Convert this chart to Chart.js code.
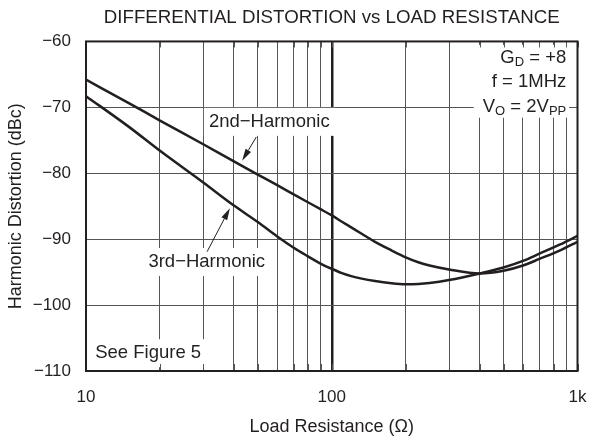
<!DOCTYPE html>
<html>
<head>
<meta charset="utf-8">
<script src="https://cdn.jsdelivr.net/npm/chart.js@4.4.1/dist/chart.umd.min.js"></script>
<style>
  html, body { margin: 0; padding: 0; background: #fff; }
  #wrap { width: 589px; height: 440px; }
</style>
</head>
<body>
<div id="wrap"><canvas id="distChart"></canvas></div>
<script>
// load resistance (ohms) and harmonic levels (dBc)
const loadOhms = [10, 15, 20, 30, 40, 50, 60, 70, 80, 90, 100, 110, 120, 150, 175, 200, 225, 250, 300, 400, 500, 600, 700, 850, 1000];
const harm2 = [-65.8, -69.4, -72.0, -75.6, -78.2, -80.2, -81.8, -83.2, -84.4, -85.45, -86.4, -87.35, -88.2, -90.4, -91.7, -92.75, -93.5, -94.0, -94.6, -95.2, -94.8, -94.0, -93.0, -91.7, -90.4];
const harm3 = [-68.3, -73.0, -76.6, -81.4, -84.9, -87.4, -89.6, -91.3, -92.6, -93.7, -94.5, -95.15, -95.6, -96.35, -96.7, -96.85, -96.8, -96.65, -96.2, -95.2, -94.3, -93.3, -92.2, -90.8, -89.5];

const xGridValues = [10, 20, 30, 40, 50, 60, 70, 80, 90, 100, 200, 300, 400, 500, 600, 700, 800, 900, 1000];
const xTickNames = { 10: '10', 100: '100', 1000: '1k' };
const yMin = -110, yMax = -60, yStep = 10;

const ink = '#231f20';
const gridInk = '#555';
const fam = '"Liberation Sans", Arial, Helvetica, sans-serif';
const noteFont = '18.5px ' + fam;
const subFont = '13px ' + fam;

// annotation anchors, in data units (ohms, dBc)
const labelNotes = [
    { text: '2nd\u2212Harmonic', r: 55.7, db: -72.2, align: 'center' },
    { text: '3rd\u2212Harmonic', r: 31.0, db: -93.46, align: 'center' },
    { text: 'See Figure 5', r: 10.9, db: -107.3, align: 'left' }
];
const arrowNotes = [
    { from: [49.3, -74.5], to: [43.2, -78.1] },
    { from: [31.1, -91.9], to: [38.5, -85.3] }
];
const condLines = [
    [['G', 0], ['D', 1], [' = +8', 0]],
    [['f = 1MHz', 0]],
    [['V', 0], ['O', 1], [' = 2V', 0], ['PP', 1]]
];
const condAnchor = { r: 900, db: [-62.5, -66.1, -69.9] };

function toPoints(vals) {
    return loadOhms.map(function (r, i) { return { x: r, y: vals[i] }; });
}

function richWidth(ctx, segs) {
    let w = 0;
    segs.forEach(function (s) {
        ctx.font = s[1] ? subFont : noteFont;
        w += ctx.measureText(s[0]).width;
    });
    return w;
}

function drawRich(ctx, segs, x, y) {
    segs.forEach(function (s) {
        ctx.font = s[1] ? subFont : noteFont;
        ctx.fillText(s[0], x, s[1] ? y + 5 : y);
        x += ctx.measureText(s[0]).width;
    });
}

function noteBoxes(chart) {
    const ctx = chart.ctx, xs = chart.scales.x, ys = chart.scales.y;
    const boxes = [];
    ctx.save();
    ctx.font = noteFont;
    labelNotes.forEach(function (n) {
        const w = ctx.measureText(n.text).width;
        const cx = xs.getPixelForValue(n.r), cy = ys.getPixelForValue(n.db);
        const left = n.align === 'left' ? cx : cx - w / 2;
        boxes.push({ x: left - 5, y: cy - 14, w: w + 10, h: 28 });
    });
    let maxW = 0;
    condLines.forEach(function (l) { maxW = Math.max(maxW, richWidth(ctx, l)); });
    const right = xs.getPixelForValue(condAnchor.r);
    const top = ys.getPixelForValue(condAnchor.db[0]);
    const bot = ys.getPixelForValue(condAnchor.db[2]);
    boxes.push({ x: right - maxW - 9, y: top - 13, w: maxW + 12, h: bot - top + 24 });
    ctx.restore();
    return boxes;
}

const notesPlugin = {
    id: 'notes',
    beforeDatasetsDraw: function (chart) {
        const ctx = chart.ctx, a = chart.chartArea, xs = chart.scales.x, ys = chart.scales.y;
        ctx.save();
        ctx.fillStyle = '#fff';
        noteBoxes(chart).forEach(function (b) { ctx.fillRect(b.x, b.y, b.w, b.h); });
        // short ticks along the frame, they stay visible where boxes hide the grid
        ctx.strokeStyle = gridInk;
        ctx.lineWidth = 1;
        ctx.beginPath();
        xGridValues.forEach(function (v) {
            const x = Math.round(xs.getPixelForValue(v)) + 0.5;
            ctx.moveTo(x, a.top); ctx.lineTo(x, a.top + 6);
            ctx.moveTo(x, a.bottom); ctx.lineTo(x, a.bottom - 7);
        });
        for (let v = yMin; v <= yMax; v += yStep) {
            const y = Math.round(ys.getPixelForValue(v)) + 0.5;
            ctx.moveTo(a.left, y); ctx.lineTo(a.left + 8, y);
            ctx.moveTo(a.right, y); ctx.lineTo(a.right - 8, y);
        }
        ctx.stroke();
        ctx.restore();
    },
    afterDatasetsDraw: function (chart) {
        const ctx = chart.ctx, a = chart.chartArea, xs = chart.scales.x, ys = chart.scales.y;
        ctx.save();
        // frame
        ctx.strokeStyle = ink;
        ctx.lineWidth = 2;
        ctx.strokeRect(a.left, a.top, a.right - a.left, a.bottom - a.top);

        ctx.fillStyle = ink;
        ctx.textBaseline = 'middle';
        ctx.font = noteFont;
        labelNotes.forEach(function (n) {
            ctx.textAlign = n.align;
            ctx.fillText(n.text, xs.getPixelForValue(n.r), ys.getPixelForValue(n.db));
        });

        ctx.textAlign = 'left';
        const right = xs.getPixelForValue(condAnchor.r);
        condLines.forEach(function (l, i) {
            const w = richWidth(ctx, l);
            drawRich(ctx, l, right - w, ys.getPixelForValue(condAnchor.db[i]));
        });

        // arrows
        ctx.strokeStyle = ink;
        ctx.lineWidth = 1;
        arrowNotes.forEach(function (ar) {
            const x1 = xs.getPixelForValue(ar.from[0]), y1 = ys.getPixelForValue(ar.from[1]);
            const x2 = xs.getPixelForValue(ar.to[0]), y2 = ys.getPixelForValue(ar.to[1]);
            const ang = Math.atan2(y2 - y1, x2 - x1);
            const hl = 12, hw = 3.2;
            const bx = x2 - hl * Math.cos(ang), by = y2 - hl * Math.sin(ang);
            ctx.beginPath();
            ctx.moveTo(x1, y1); ctx.lineTo(bx, by);
            ctx.stroke();
            ctx.beginPath();
            ctx.moveTo(x2, y2);
            ctx.lineTo(bx + hw * Math.sin(ang), by - hw * Math.cos(ang));
            ctx.lineTo(bx - hw * Math.sin(ang), by + hw * Math.cos(ang));
            ctx.closePath();
            ctx.fill();
        });
        ctx.restore();
    }
};

const distCtx = document.getElementById('distChart');

new Chart(distCtx, {
    type: 'line',
    data: {
        datasets: [{
            label: '2nd-Harmonic',
            data: toPoints(harm2),
            borderColor: ink,
            borderWidth: 2.5,
            pointRadius: 0,
            cubicInterpolationMode: 'monotone',
            fill: false
        }, {
            label: '3rd-Harmonic',
            data: toPoints(harm3),
            borderColor: ink,
            borderWidth: 2.5,
            pointRadius: 0,
            cubicInterpolationMode: 'monotone',
            fill: false
        }]
    },
    options: {
        responsive: true,
        maintainAspectRatio: false,
        animation: false,
        layout: { padding: 0 },
        plugins: {
            legend: { display: false },
            tooltip: { enabled: false },
            title: {
                display: true,
                fullSize: false,
                text: 'DIFFERENTIAL DISTORTION vs LOAD RESISTANCE',
                color: ink,
                font: { family: fam, size: 18.7, weight: 'normal' },
                padding: { top: 7, bottom: 12 }
            }
        },
        scales: {
            x: {
                type: 'logarithmic',
                min: 10,
                max: 1000,
                afterFit: function (s) {
                    s.height = 69;
                    s.paddingLeft = 0;
                    s.paddingRight = 11.5;
                },
                afterBuildTicks: function (s) {
                    s.ticks = xGridValues.map(function (v) { return { value: v }; });
                },
                ticks: {
                    autoSkip: false,
                    maxRotation: 0,
                    padding: 16,
                    color: ink,
                    font: { family: fam, size: 17 },
                    callback: function (v) { return xTickNames[v] || ''; }
                },
                grid: {
                    drawTicks: false,
                    color: function (c) { return c.tick && c.tick.value === 100 ? ink : gridInk; },
                    lineWidth: function (c) { return c.tick && c.tick.value === 100 ? 2.5 : 1; }
                },
                border: { display: false },
                title: {
                    display: true,
                    text: 'Load Resistance (\u03A9)',
                    color: ink,
                    font: { family: fam, size: 18 },
                    padding: { top: 0, bottom: 2 }
                }
            },
            y: {
                min: yMin,
                max: yMax,
                afterFit: function (s) { s.width = 86; },
                ticks: {
                    stepSize: yStep,
                    padding: 15,
                    color: ink,
                    font: { family: fam, size: 17 },
                    callback: function (v) { return v < 0 ? '\u2212' + Math.abs(v) : String(v); }
                },
                grid: { drawTicks: false, color: gridInk, lineWidth: 1 },
                border: { display: false },
                title: {
                    display: true,
                    text: 'Harmonic Distortion (dBc)',
                    color: ink,
                    font: { family: fam, size: 18 },
                    padding: { top: 5, bottom: 0 }
                }
            }
        }
    },
    plugins: [notesPlugin]
});
</script>
</body>
</html>
